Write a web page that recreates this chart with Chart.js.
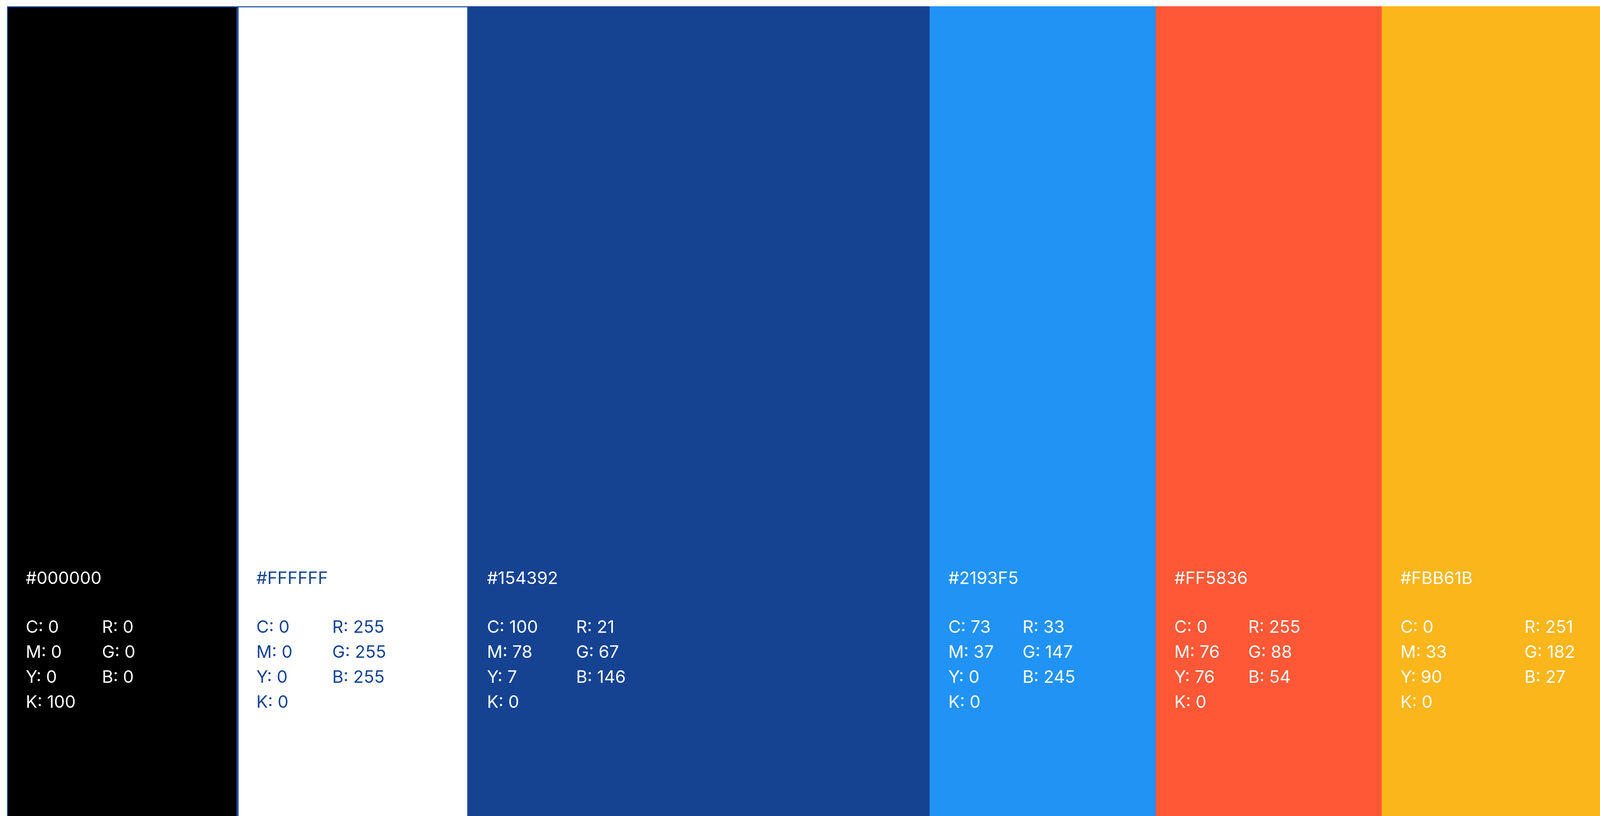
<!DOCTYPE html>
<html>
<head>
<meta charset="utf-8">
<script src="https://cdn.jsdelivr.net/npm/chart.js@4"></script>
<style>
    html, body { margin: 0; padding: 0; width: 100%; height: 100%; background: #ffffff; overflow: hidden; }
    #wrap { position: relative; width: 100vw; height: 100vh; }
    #palette { display: block; }
</style>
</head>
<body>
<div id="wrap"><canvas id="palette"></canvas></div>
<script>
// パレットのデータ
const swatchHex = ['#000000', '#FFFFFF', '#154392', '#2193F5', '#FF5836', '#FBB61B'];
const swatchWidths = [100, 100, 200, 98, 98, 100];   // 相対的な幅
const cyanValues = [0, 0, 100, 73, 0, 0];
const magentaValues = [0, 0, 78, 37, 76, 33];
const yellowValues = [0, 0, 7, 0, 76, 90];
const keyValues = [100, 0, 0, 0, 0, 0];
const redValues = [0, 255, 21, 33, 255, 251];
const greenValues = [0, 255, 67, 147, 88, 182];
const blueValues = [0, 255, 146, 245, 54, 27];

// スタイル (基準サイズ 4849x2089 のピクセル)
const BASE_W = 4849;
const BASE_H = 2089;
const outlineColor = '#25519f';
const rgbColumnOffset = [288, 287, 327, 282, 281, 433];
const textInset = 57;
const lineBaselines = [1479, 1604, 1668, 1732, 1796];

// 各スウォッチのテキストを描く
const swatchText = {
    id: 'swatchText',
    afterDatasetsDraw(chart) {
        const ctx = chart.ctx;
        const sx = chart.width / BASE_W;
        const sy = chart.height / BASE_H;
        const top = chart.chartArea.top;
        const yy = lineBaselines.map(v => top + v * sy);
        ctx.save();
        ctx.font = '400 ' + (52 * sx).toFixed(2) + 'px Inter, "Noto Sans", sans-serif';
        ctx.textBaseline = 'alphabetic';
        ctx.textAlign = 'left';
        chart.data.datasets.forEach((ds, i) => {
            const el = chart.getDatasetMeta(i).data[0];
            const p = el.getProps(['x', 'base'], true);
            const left = Math.min(p.x, p.base);
            const x1 = left + textInset * sx;
            const x2 = left + rgbColumnOffset[i] * sx;
            ctx.fillStyle = swatchHex[i] === '#FFFFFF' ? '#154392' : '#ffffff';
            ctx.fillText(swatchHex[i], x1, yy[0]);
            ctx.fillText('C: ' + cyanValues[i], x1, yy[1]);
            ctx.fillText('M: ' + magentaValues[i], x1, yy[2]);
            ctx.fillText('Y: ' + yellowValues[i], x1, yy[3]);
            ctx.fillText('K: ' + keyValues[i], x1, yy[4]);
            ctx.fillText('R: ' + redValues[i], x2, yy[1]);
            ctx.fillText('G: ' + greenValues[i], x2, yy[2]);
            ctx.fillText('B: ' + blueValues[i], x2, yy[3]);
        });
        ctx.restore();
    }
};

const datasets = swatchHex.map((hex, i) => ({
    label: hex,
    data: [swatchWidths[i]],
    backgroundColor: hex,
    borderColor: i < 2 ? outlineColor : hex,
    borderWidth: i < 2 ? 3 : 0,
    borderSkipped: 'bottom',
    barPercentage: 1,
    categoryPercentage: 1
}));

new Chart(document.getElementById('palette'), {
    type: 'bar',
    data: {
        labels: ['palette'],
        datasets: datasets
    },
    options: {
        indexAxis: 'y',
        responsive: true,
        maintainAspectRatio: false,
        animation: false,
        layout: {
            padding: function(c) {
                return {
                    left: 21 * c.chart.width / BASE_W,
                    top: 16 * c.chart.height / BASE_H,
                    right: 0,
                    bottom: 0
                };
            }
        },
        plugins: {
            legend: { display: false },
            tooltip: { enabled: false }
        },
        scales: {
            x: {
                stacked: true,
                display: false,
                min: 0,
                max: 690.7
            },
            y: {
                stacked: true,
                display: false
            }
        }
    },
    plugins: [swatchText]
});
</script>
</body>
</html>
